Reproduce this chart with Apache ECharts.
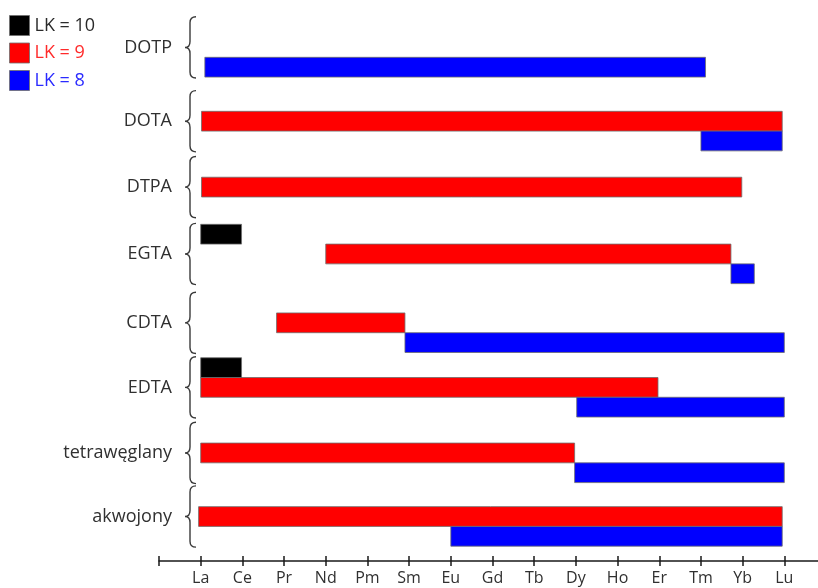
<!DOCTYPE html>
<html>
<head>
<meta charset="utf-8">
<title>Zakresy lantanowców</title>
<script src="https://cdn.jsdelivr.net/npm/echarts@6/dist/echarts.min.js"></script>
<style>
  html, body { margin: 0; padding: 0; background: #fff; }
  #chart { width: 818px; height: 588px; }
</style>
</head>
<body>
<div id="chart"></div>
<script>
// Lanthanides along the x axis (index 0 = La ... 14 = Lu)
const elements = ['La', 'Ce', 'Pr', 'Nd', 'Pm', 'Sm', 'Eu', 'Gd', 'Tb', 'Dy', 'Ho', 'Er', 'Tm', 'Yb', 'Lu'];

// Ligand groups, top to bottom, and the centre of each group on the y scale
const ligands = ['DOTP', 'DOTA', 'DTPA', 'EGTA', 'CDTA', 'EDTA', 'tetraw\u0119glany', 'akwojony'];
const ligandPos = [-0.12, 1, 2, 3.015, 4.06, 5.04, 6.035, 7];

// Ranges for each coordination number: [ligand index, row in group, from, to]
const lk10 = [
  [3, -1, 0, 0.98],
  [5, -1, 0, 0.98]
];
const lk9 = [
  [1, 0, 0.02, 13.95],
  [2, 0, 0.02, 12.98],
  [3, 0, 3.0, 12.72],
  [4, 0, 1.82, 4.9],
  [5, 0, 0, 10.97],
  [6, 0, 0, 8.97],
  [7, 0, -0.05, 13.95]
];
const lk8 = [
  [0, 1, 0.1, 12.11],
  [1, 1, 12.0, 13.95],
  [3, 1, 12.72, 13.28],
  [4, 1, 4.9, 14],
  [5, 1, 9.02, 14],
  [6, 1, 8.97, 14],
  [7, 1, 6.0, 13.95]
];

const ROW = 0.3;           // height of one bar row in y units
const BRACE_HALF = 0.465;  // half height of a group brace in y units
const FONT = '"Open Sans", "Noto Sans", sans-serif';

function renderRange(params, api) {
  const g = api.value(0);
  const row = api.value(1);
  const yc = ligandPos[g] + row * ROW;
  const p0 = api.coord([api.value(2), yc - ROW / 2]);
  const p1 = api.coord([api.value(3), yc + ROW / 2]);
  return {
    type: 'rect',
    shape: { x: p0[0], y: p0[1], width: p1[0] - p0[0], height: p1[1] - p0[1] },
    style: api.style()
  };
}

function renderBrace(params, api) {
  const g = api.value(0);
  const mid = api.coord([-1, ligandPos[g]]);
  const top = api.coord([-1, ligandPos[g] - BRACE_HALF])[1];
  const bot = api.coord([-1, ligandPos[g] + BRACE_HALF])[1];
  const x0 = mid[0] + 26;  // tip
  const x1 = x0 + 5;       // spine
  const x2 = x0 + 11;      // ends
  const ym = mid[1];
  const r = 6;
  const d = 'M' + x2 + ',' + top +
    ' Q' + x1 + ',' + top + ' ' + x1 + ',' + (top + r) +
    ' L' + x1 + ',' + (ym - r) +
    ' Q' + x1 + ',' + ym + ' ' + x0 + ',' + ym +
    ' Q' + x1 + ',' + ym + ' ' + x1 + ',' + (ym + r) +
    ' L' + x1 + ',' + (bot - r) +
    ' Q' + x1 + ',' + bot + ' ' + x2 + ',' + bot;
  return {
    type: 'group',
    children: [
      {
        type: 'path',
        shape: { pathData: d },
        style: { fill: null, stroke: '#3a3a3a', lineWidth: 1.4 }
      },
      {
        type: 'text',
        x: x0 - 13,
        y: ym,
        style: {
          text: ligands[g],
          align: 'right',
          verticalAlign: 'middle',
          fill: '#303030',
          font: '18px ' + FONT
        }
      }
    ]
  };
}

function rangeSeries(name, data, color) {
  return {
    name: name,
    type: 'custom',
    renderItem: renderRange,
    clip: false,
    itemStyle: { color: color, borderColor: 'rgba(110,110,110,0.8)', borderWidth: 1 },
    encode: { x: [2, 3] },
    data: data
  };
}

const chart = echarts.init(document.getElementById('chart'), null, { renderer: 'canvas' });

const xBase = {
  type: 'value',
  position: 'bottom',
  min: -1,
  max: 15,
  interval: 1,
  splitLine: { show: false }
};

chart.setOption({
  animation: false,
  backgroundColor: '#ffffff',
  grid: {
    left: 159, width: 667, top: 0, bottom: 27,
    containLabel: false, outerBoundsMode: 'none'
  },
  legend: {
    orient: 'vertical',
    left: 9,
    top: 15,
    padding: 0,
    icon: 'rect',
    itemWidth: 20,
    itemHeight: 20,
    itemGap: 6.5,
    itemStyle: { borderColor: 'rgba(110,110,110,0.8)', borderWidth: 1 },
    selectedMode: false,
    textStyle: { fontFamily: FONT, fontSize: 18 },
    data: [
      { name: 'LK = 10', textStyle: { color: '#2a2a2a' } },
      { name: 'LK = 9', textStyle: { color: '#ff2a2a' } },
      { name: 'LK = 8', textStyle: { color: '#2a2aff' } }
    ]
  },
  xAxis: [
    Object.assign({}, xBase, {
      axisLine: { show: true, onZero: false, lineStyle: { color: '#1a1a1a', width: 1.5 } },
      axisTick: { show: true, inside: false, length: 5, lineStyle: { color: '#1a1a1a', width: 1.5 } },
      axisLabel: {
        margin: 9,
        color: '#303030',
        fontFamily: FONT,
        fontSize: 16,
        formatter: function (v) { return elements[v] !== undefined ? elements[v] : ''; }
      }
    }),
    Object.assign({}, xBase, {
      axisLine: { show: false, onZero: false },
      axisTick: { show: true, inside: true, length: 5, lineStyle: { color: '#1a1a1a', width: 1.5 } },
      axisLabel: { show: false }
    })
  ],
  yAxis: {
    type: 'value',
    inverse: true,
    min: -0.84,
    max: 7.675,
    show: false
  },
  series: [
    {
      type: 'custom',
      renderItem: renderBrace,
      clip: false,
      silent: true,
      data: ligands.map(function (_, i) { return [i]; })
    },
    rangeSeries('LK = 9', lk9, '#ff0000'),
    rangeSeries('LK = 8', lk8, '#0000ff'),
    rangeSeries('LK = 10', lk10, '#000000')
  ]
});
</script>
</body>
</html>
